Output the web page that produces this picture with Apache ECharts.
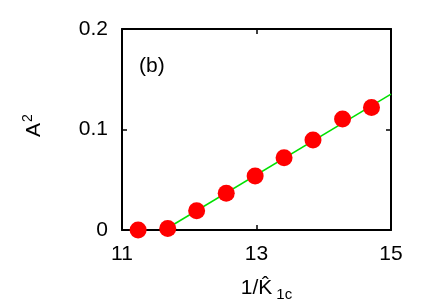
<!DOCTYPE html>
<html><head><meta charset="utf-8">
<script src="https://cdn.jsdelivr.net/npm/echarts@6/dist/echarts.min.js"></script>
<style>html,body{margin:0;padding:0;background:#fff}#c{width:432px;height:303px}</style>
</head><body><div id="c"></div>
<script>
var xTicks = [11, 13, 15];
var yTicks = [0, 0.1, 0.2];
var xData = [11.24, 11.68, 12.11, 12.55, 12.98, 13.41, 13.84, 14.28, 14.71];
var yData = [0.0, 0.0015, 0.0192, 0.0365, 0.0537, 0.0720, 0.0896, 0.1105, 0.1220];
var fitX = [11.63, 15];
var fitY = [0.0, 0.1353];

var font = 'Liberation Sans';
var pts = xData.map(function(x, i){ return [x, yData[i]]; });
var fit = fitX.map(function(x, i){ return [x, fitY[i]]; });

function fmtY(v){ return v === 0 ? '0' : String(Math.round(v*10)/10); }

var chart = echarts.init(document.getElementById('c'), null, {renderer:'canvas'});
chart.setOption({
  animation: false,
  backgroundColor: '#fff',
  grid: {left: 122, right: 41, top: 29, bottom: 73, containLabel: false, outerBoundsMode: 'none'},
  xAxis: [{
    type: 'value', min: 11, max: 15, interval: 2,
    position: 'bottom',
    axisLine: {show: true, onZero: false, lineStyle: {color: '#000', width: 2}},
    axisTick: {show: true, inside: true, length: 5, lineStyle: {color: '#000', width: 1.5}},
    axisLabel: {show: true, margin: 14, color: '#000', fontFamily: font, fontSize: 21,
      formatter: function(v){ return xTicks.indexOf(v) >= 0 ? String(v) : ''; }},
    splitLine: {show: false},
    name: '1/K\u0302{sub|1c}',
    nameLocation: 'middle', nameGap: 45,
    nameTextStyle: {color: '#000', fontFamily: font, fontSize: 21, padding: [0,0,0,20],
      rich: {sub: {fontFamily: font, fontSize: 15, color: '#000', padding: [12,0,0,4]}}}
  }, {
    type: 'value', min: 11, max: 15, interval: 2,
    position: 'top',
    axisLine: {show: true, onZero: false, lineStyle: {color: '#000', width: 2}},
    axisTick: {show: true, inside: true, length: 5, lineStyle: {color: '#000', width: 1.5}},
    axisLabel: {show: false}, splitLine: {show: false}
  }],
  yAxis: [{
    type: 'value', min: 0, max: 0.2, interval: 0.1,
    position: 'left',
    axisLine: {show: true, onZero: false, lineStyle: {color: '#000', width: 2}},
    axisTick: {show: true, inside: true, length: 5, lineStyle: {color: '#000', width: 1.5}},
    axisLabel: {show: true, margin: 14, color: '#000', fontFamily: font, fontSize: 21,
      formatter: fmtY},
    splitLine: {show: false},
    name: 'A{sup|2}',
    nameLocation: 'middle', nameGap: 75, nameRotate: 90,
    nameTextStyle: {color: '#000', fontFamily: font, fontSize: 21, padding: [0,0,0,8],
      rich: {sup: {fontFamily: font, fontSize: 14, color: '#000', padding: [0,0,12,1]}}}
  }, {
    type: 'value', min: 0, max: 0.2, interval: 0.1,
    position: 'right',
    axisLine: {show: true, onZero: false, lineStyle: {color: '#000', width: 2}},
    axisTick: {show: true, inside: true, length: 5, lineStyle: {color: '#000', width: 1.5}},
    axisLabel: {show: false}, splitLine: {show: false}
  }],
  graphic: [{
    type: 'text', left: 139, top: 56,
    style: {text: '(b)', fill: '#000', font: '21px "Liberation Sans"'}
  }],
  series: [{
    type: 'line', data: fit, xAxisIndex: 0, yAxisIndex: 0,
    showSymbol: false, symbol: 'none',
    lineStyle: {color: '#00e000', width: 1.5}, z: 2
  }, {
    type: 'scatter', data: pts, xAxisIndex: 0, yAxisIndex: 0,
    symbol: 'circle', symbolSize: 17,
    itemStyle: {color: '#ff0000', opacity: 1}, z: 3
  }]
});
</script></body></html>
